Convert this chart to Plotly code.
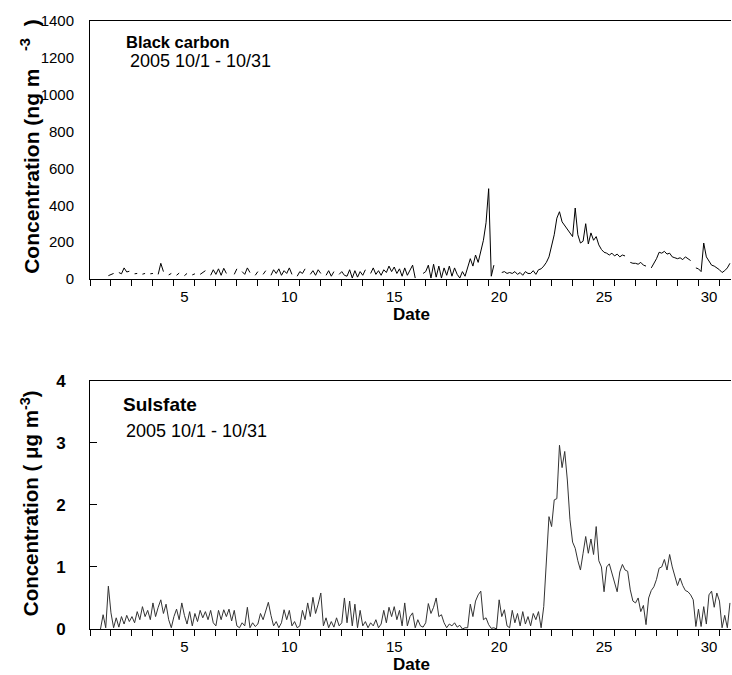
import plotly.graph_objects as go

# ---------------- data (8 samples per day, 3-hourly; None = missing) ----------------
# Black carbon (ng m-3), rows = day 1..31 of Oct 2005
bc_by_day = [
    [None, None, None, None, None, None, None, 18],   # 1
    [22, 30, None, 35, 28, 60, 38, 42],               # 2
    [None, 28, 30, None, 26, 30, None, 28],           # 3
    [30, None, 25, 85, 40, None, 22, 30],             # 4
    [None, 20, 32, None, 18, 30, None, 22],           # 5
    [28, None, 25, 35, 45, None, 20, 50],             # 6
    [25, 55, 20, 58, 30, None, None, 25],             # 7
    [55, None, 40, 25, 60, 35, None, 20],             # 8
    [40, None, 25, 45, None, 20, 50, 30],             # 9
    [55, 20, 45, 30, 60, 25, None, 15],               # 10
    [40, 30, 55, None, 25, 45, 20, 50],               # 11
    [30, None, 20, 45, 15, 40, None, 25],             # 12
    [40, 20, 15, 50, 5, 45, 10, 40],                  # 13
    [20, 50, None, 30, 60, 25, 45, 20],               # 14
    [50, 35, 70, 40, 65, 30, 55, 15],                 # 15
    [60, 20, 45, 75, 5, None, None, 30],              # 16
    [40, 75, 5, 80, 10, 70, 5, 60],                   # 17
    [20, 70, 15, 60, 25, 5, 40, 15],                  # 18
    [60, 110, 70, 130, 90, 150, 210, 305],            # 19
    [490, 15, 75, None, None, 35, 40, 30],            # 20
    [35, 30, 40, 25, 35, 20, 40, 30],                 # 21
    [30, 45, 25, 50, 55, 70, 90, 120],                # 22
    [180, 240, 330, 365, 310, 290, 275, 255],         # 23
    [230, 385, 240, 195, 205, 300, 190, 250],         # 24
    [210, 230, 185, 160, 145, 140, 130, 140],         # 25
    [125, 135, 120, 130, 125, None, 90, 85],          # 26
    [85, 80, 90, 75, 70, None, 60, 85],               # 27
    [110, 145, 140, 150, 135, 140, 120, 115],         # 28
    [110, 115, 105, 120, 110, 100, None, 60],         # 29
    [55, 40, 195, 120, 95, 75, 70, 60],               # 30
    [50, 35, 45, 60, 85],                             # 31
]

# Sulfate (ug m-3)
so4_by_day = [
    [None, None, None, None, 0.0, 0.23, 0.02, 0.69],  # 1
    [0.26, 0.02, 0.18, 0.03, 0.2, 0.08, 0.22, 0.12],  # 2
    [0.2, 0.1, 0.28, 0.15, 0.36, 0.2, 0.3, 0.15],     # 3
    [0.42, 0.2, 0.35, 0.47, 0.25, 0.4, 0.15, 0.02],   # 4
    [0.2, 0.32, 0.15, 0.42, 0.22, 0.08, 0.28, 0.05],  # 5
    [0.25, 0.12, 0.3, 0.18, 0.28, 0.15, 0.3, 0.1],    # 6
    [0.05, 0.3, 0.15, 0.31, 0.2, 0.32, 0.13, 0.3],    # 7
    [0.05, 0.02, 0.1, 0.05, 0.35, 0.02, 0.1, 0.04],   # 8
    [0.08, 0.25, 0.15, 0.3, 0.43, 0.22, 0.05, 0.12],  # 9
    [0.02, 0.1, 0.31, 0.15, 0.3, 0.05, 0.12, 0.02],   # 10
    [0.05, 0.3, 0.15, 0.42, 0.2, 0.51, 0.25, 0.4],    # 11
    [0.58, 0.05, 0.18, 0.02, 0.12, 0.03, 0.18, 0.05], # 12
    [0.1, 0.5, 0.1, 0.45, 0.05, 0.4, 0.02, 0.3],      # 13
    [0.05, 0.12, 0.02, 0.1, 0.05, 0.15, 0.02, 0.08],  # 14
    [0.3, 0.1, 0.35, 0.2, 0.36, 0.15, 0.3, 0.05],     # 15
    [0.42, 0.05, 0.2, 0.26, 0.02, 0.15, 0.05, 0.03],  # 16
    [0.1, 0.41, 0.25, 0.35, 0.5, 0.2, 0.23, 0.1],     # 17
    [0.02, 0.08, 0.05, 0.1, 0.03, 0.06, 0.0, 0.02],   # 18
    [0.02, 0.4, 0.2, 0.45, 0.55, 0.61, 0.15, 0.18],   # 19
    [0.07, 0.01, 0.02, 0.0, 0.47, 0.2, 0.31, 0.05],   # 20
    [0.02, 0.3, 0.1, 0.25, 0.05, 0.28, 0.08, 0.2],    # 21
    [0.05, 0.25, 0.15, 0.28, 0.02, 0.36, 1.17, 1.81], # 22
    [1.65, 2.08, 2.1, 2.96, 2.6, 2.86, 2.4, 1.76],    # 23
    [1.4, 1.3, 1.1, 0.95, 1.22, 1.49, 1.22, 1.45],    # 24
    [1.2, 1.65, 1.1, 1.0, 0.6, 1.0, 1.05, 0.9],       # 25
    [0.78, 0.6, 0.92, 1.04, 0.95, 0.93, 0.63, 0.45],  # 26
    [0.42, 0.5, 0.28, 0.38, 0.07, 0.5, 0.62, 0.68],   # 27
    [0.8, 0.98, 1.0, 1.12, 0.95, 1.2, 1.0, 0.85],     # 28
    [0.7, 0.82, 0.7, 0.62, 0.6, 0.55, 0.47, 0.04],    # 29
    [0.32, 0.04, 0.36, 0.08, 0.55, 0.61, 0.35, 0.58], # 30
    [0.45, 0.02, 0.22, 0.02, 0.42],                   # 31
]

day_ticks = [5, 10, 15, 20, 25, 30]
bc_ticks = [0, 200, 400, 600, 800, 1000, 1200, 1400]
so4_ticks = [0, 1, 2, 3, 4]
samples_per_day = 8


def expand(rows):
    xs, ys = [], []
    for i, row in enumerate(rows):
        day = i + 1
        for k, v in enumerate(row):
            xs.append(day - 0.5 + k / samples_per_day)
            ys.append(v)
    return xs, ys


bc_x, bc_y = expand(bc_by_day)
so4_x, so4_y = expand(so4_by_day)

FONT = "Arial, Liberation Sans, sans-serif"

fig = go.Figure()
fig.add_trace(go.Scatter(x=bc_x, y=bc_y, mode="lines", connectgaps=False,
                         line=dict(color="black", width=1), xaxis="x", yaxis="y",
                         showlegend=False, hoverinfo="skip"))
fig.add_trace(go.Scatter(x=so4_x, y=so4_y, mode="lines", connectgaps=False,
                         line=dict(color="#333333", width=1), xaxis="x2", yaxis="y2",
                         showlegend=False, hoverinfo="skip"))

xcommon = dict(
    range=[0.5, 31.05], tickmode="array", tickvals=day_ticks,
    ticks="outside", ticklen=4, tickcolor="rgba(0,0,0,0)",
    showline=True, linecolor="black", linewidth=1, mirror=True,
    showgrid=False, zeroline=False,
    tickfont=dict(family=FONT, size=15, color="black"),
    minor=dict(tickmode="linear", tick0=0.5, dtick=1, ticks="outside",
               ticklen=6, tickcolor="black", tickwidth=1, showgrid=False),
)

top_dom = [0.5757, 1.0]
bot_dom = [0.0, 0.4084]

fig.update_layout(
    width=732, height=675,
    margin=dict(l=90, r=1, t=21, b=46),
    paper_bgcolor="white", plot_bgcolor="white",
    font=dict(family=FONT, color="black"),
    xaxis=dict(anchor="y", domain=[0, 1], **xcommon),
    yaxis=dict(anchor="x", domain=top_dom, range=[0, 1400], tickmode="array",
               tickvals=bc_ticks, ticks="", showline=True, linecolor="black",
               linewidth=1, showgrid=False, zeroline=False, ticklabelstandoff=12,
               tickfont=dict(family=FONT, size=15, color="black")),
    xaxis2=dict(anchor="y2", domain=[0, 1], **xcommon),
    yaxis2=dict(anchor="x2", domain=bot_dom, range=[0, 4], tickmode="array",
                tickvals=so4_ticks, ticks="inside", ticklen=7, tickcolor="black",
                showline=True, linecolor="black", linewidth=1, showgrid=False,
                zeroline=False, ticklabelstandoff=20,
                tickfont=dict(family=FONT, size=17, color="black", weight="bold")),
)

ann = []
# panel labels
ann.append(dict(text="<b>Black carbon</b>", x=0.053, y=0.966, xref="paper", yref="paper",
                xanchor="left", yanchor="middle", showarrow=False,
                font=dict(family=FONT, size=16.5, color="black")))
ann.append(dict(text="2005 10/1 - 10/31", x=0.060, y=0.935, xref="paper", yref="paper",
                xanchor="left", yanchor="middle", showarrow=False,
                font=dict(family=FONT, size=18, color="black")))
ann.append(dict(text="<b>Sulsfate</b>", x=0.048, y=0.369, xref="paper", yref="paper",
                xanchor="left", yanchor="middle", showarrow=False,
                font=dict(family=FONT, size=19, color="black")))
ann.append(dict(text="2005 10/1 - 10/31", x=0.053, y=0.326, xref="paper", yref="paper",
                xanchor="left", yanchor="middle", showarrow=False,
                font=dict(family=FONT, size=18, color="black")))
# axis titles
ann.append(dict(text="<b>Concentration (ng m&nbsp;&nbsp;&nbsp;<sup>-3</sup>&nbsp;&nbsp;)</b>",
                x=-0.0936, y=0.793,
                xref="paper", yref="paper", xanchor="center", yanchor="middle",
                textangle=-90, showarrow=False,
                font=dict(family=FONT, size=21, color="black")))
ann.append(dict(text="<b>Concentration ( μg m<sup>-3</sup>)</b>", x=-0.0936, y=0.207,
                xref="paper", yref="paper", xanchor="center", yanchor="middle",
                textangle=-90, showarrow=False,
                font=dict(family=FONT, size=20.5, color="black")))
ann.append(dict(text="<b>Date</b>", x=0.5008, y=0.5180, xref="paper", yref="paper",
                xanchor="center", yanchor="middle", showarrow=False,
                font=dict(family=FONT, size=17, color="black")))
ann.append(dict(text="<b>Date</b>", x=0.5008, y=-0.0590, xref="paper", yref="paper",
                xanchor="center", yanchor="middle", showarrow=False,
                font=dict(family=FONT, size=17, color="black")))
fig.update_layout(annotations=ann)

fig.write_html("out.html")
